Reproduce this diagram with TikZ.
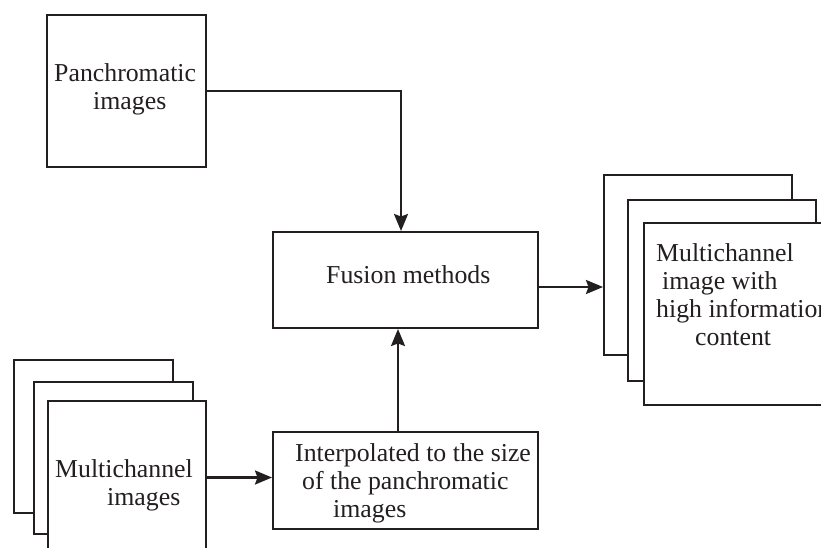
\documentclass[tikz,border=0pt]{standalone}
\usepackage{fontspec}
\setmainfont{Liberation Serif}
\usetikzlibrary{arrows.meta}
\definecolor{ink}{HTML}{231F20}
\begin{document}
\begin{tikzpicture}[x=1pt,y=-1pt,
  box/.style={draw=ink,line width=2pt,fill=white,inner sep=0pt,anchor=north west},
  txt/.style={anchor=base west,align=left,inner sep=0pt,text=ink,
    font=\fontsize{25.8}{28}\selectfont},
  arr/.style={draw=ink,line width=2.2pt,-{Stealth[length=17pt,width=14pt,inset=2.5pt]}}]
\useasboundingbox (0,0) rectangle (821,548);
\clip (0,0) rectangle (821,548);
% Panchromatic
\node[box,minimum width=159pt,minimum height=152pt] (pan) at (46,14) {};
\node[txt] (pant) at (54,110) {Panchromatic\\\hspace*{39pt}images};
% Fusion
\node[box,minimum width=265pt,minimum height=96pt] (fusion) at (272,231) {};
\node[txt] (fust) at (326,283) {Fusion methods};
% Interpolation
\node[box,minimum width=265pt,minimum height=97pt] (interp) at (272,431) {};
\node[txt] (intt) at (295,517) {Interpolated to the size\\\hspace*{7pt}of the panchromatic\\\hspace*{38pt}images};
% Left stack
\node[box,minimum width=159pt,minimum height=153pt] (l1) at (13,359) {};
\node[box,minimum width=159pt,minimum height=152pt] (l2) at (33,381) {};
\node[box,minimum width=158pt,minimum height=153pt] (l3) at (47,400) {};
\node[txt] (lt) at (55,505) {Multichannel\\\hspace*{52pt}images};
% Right stack
\node[box,minimum width=188pt,minimum height=180pt] (r1) at (603,174) {};
\node[box,minimum width=188pt,minimum height=181pt] (r2) at (627,199) {};
\node[box,minimum width=188pt,minimum height=182pt] (r3) at (643,222) {};
\node[txt] (rt) at (656,345) {Multichannel\\\hspace*{6pt}image with\\high information\\\hspace*{39pt}content};
% Connectors
\draw[arr] (pan.east) -| ([xshift=-4.5pt]fusion.north);
\draw[arr] ([xshift=-7.5pt]interp.north) -- ([xshift=-7.5pt]fusion.south);
\coordinate (fo) at ([yshift=-7pt]fusion.east);
\draw[arr] (fo) -- (fo -| r1.west);
\draw[arr] (l3.east) -- (l3.east -| interp.west);
\end{tikzpicture}
\end{document}
